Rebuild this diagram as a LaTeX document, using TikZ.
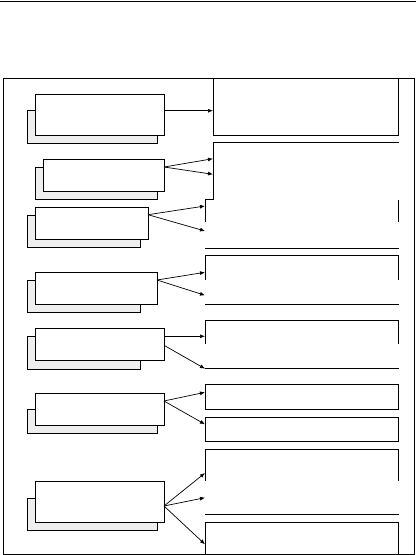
\documentclass[tikz,border=0pt]{standalone}
\usetikzlibrary{arrows.meta}
\definecolor{shadegray}{HTML}{EEEEEE}
\begin{document}
\begin{tikzpicture}[x=1pt, y=-1pt, line width=0.9pt,
    card/.style={draw, fill=white, anchor=north west, inner sep=0pt, outer sep=0pt},
    backing/.style={card, fill=shadegray},
    arrow/.style={-{Latex[length=5pt,width=4pt]}, line width=0.7pt}
  ]
    \useasboundingbox (0,0) rectangle (416,555);
    % rule and outer frame
    \draw (0,1.3) -- (416,1.3);
    \draw (3,78) rectangle (414.3,554);
    % right hand panels
    \draw (213,78) -- (213,135.3) -- (398.7,135.3) -- (398.7,78);
    \draw (398.7,142.7) -- (213,142.7) -- (213,199) -- (205,199) -- (205,222);
    \draw (398.7,200) -- (398.7,222);
    \draw (205,248.3) -- (398.7,248.3);
    \draw (205,280) -- (205,255.7) -- (398.7,255.7) -- (398.7,280);
    \draw (205,304) -- (398.7,304);
    \draw (205,344.3) -- (205,320) -- (398.7,320) -- (398.7,344.3);
    \draw (205,368.7) -- (398.7,368.7);
    \draw (205,384.3) rectangle (398.7,409);
    \draw (205,417.3) rectangle (398.7,441.7);
    \draw (205,481) -- (205,449.3) -- (398.7,449.3) -- (398.7,481);
    \draw (205,514.3) -- (398.7,514.3);
    \draw (205,554) -- (205,522.3) -- (398.7,522.3) -- (398.7,554);
    % arrow tips on the panels
    \coordinate (t1) at (213,110.7);
    \coordinate (t2a) at (213,158.7);
    \coordinate (t2b) at (213,174.3);
    \coordinate (t3a) at (205,206);
    \coordinate (t3b) at (205,231);
    \coordinate (t4a) at (205,272.3);
    \coordinate (t4b) at (205,295.3);
    \coordinate (t5a) at (205,336.3);
    \coordinate (t5b) at (205,368.7);
    \coordinate (t6a) at (205,392.3);
    \coordinate (t6b) at (205,424.3);
    \coordinate (t7a) at (205,473);
    \coordinate (t7b) at (205,497.7);
    \coordinate (t7c) at (205,544.3);
    % shadowed boxes
    \node[backing, minimum width=130pt, minimum height=33pt] (s1) at (27,110) {};
    \node[card, minimum width=129pt, minimum height=41pt] (b1) at (35,94) {};
    \node[backing, minimum width=122pt, minimum height=32pt] (s2) at (35,167) {};
    \node[card, minimum width=121pt, minimum height=32pt] (b2) at (43,159) {};
    \node[backing, minimum width=113pt, minimum height=32pt] (s3) at (27,215) {};
    \node[card, minimum width=113pt, minimum height=32pt] (b3) at (35,207) {};
    \node[backing, minimum width=113pt, minimum height=32pt] (s4) at (27,280) {};
    \node[card, minimum width=122pt, minimum height=32pt] (b4) at (35,272) {};
    \node[backing, minimum width=113pt, minimum height=33pt] (s5) at (27,336) {};
    \node[card, minimum width=129pt, minimum height=32pt] (b5) at (35,328) {};
    \node[backing, minimum width=130pt, minimum height=24pt] (s6) at (27,409) {};
    \node[card, minimum width=129pt, minimum height=32pt] (b6) at (35,393) {};
    \node[backing, minimum width=130pt, minimum height=32pt] (s7) at (27,498) {};
    \node[card, minimum width=129pt, minimum height=41pt] (b7) at (35,481) {};
    % connectors
    \draw[arrow] (b1.east |- t1) -- (t1);
    \draw[arrow] ([yshift=8pt]b2.east) -- (t2a);
    \draw[arrow] ([yshift=8pt]b2.east) -- (t2b);
    \draw[arrow] ([yshift=8.3pt]b3.east) -- (t3a);
    \draw[arrow] ([yshift=8.3pt]b3.east) -- (t3b);
    \draw[arrow] ([yshift=8pt]b4.east) -- (t4a);
    \draw[arrow] ([yshift=8pt]b4.east) -- (t4b);
    \draw[arrow] (b5.east |- t5a) -- (t5a);
    \draw[arrow] ([yshift=-1.3pt]b5.east) -- (t5b);
    \draw[arrow] ([yshift=8pt]b6.east) -- (t6a);
    \draw[arrow] ([yshift=8pt]b6.east) -- (t6b);
    \draw[arrow] ([yshift=-4.5pt]b7.east) -- (t7a);
    \draw[arrow] ([yshift=-4.5pt]b7.east) -- (t7b);
    \draw[arrow] ([yshift=-4.5pt]b7.east) -- (t7c);
\end{tikzpicture}
\end{document}
